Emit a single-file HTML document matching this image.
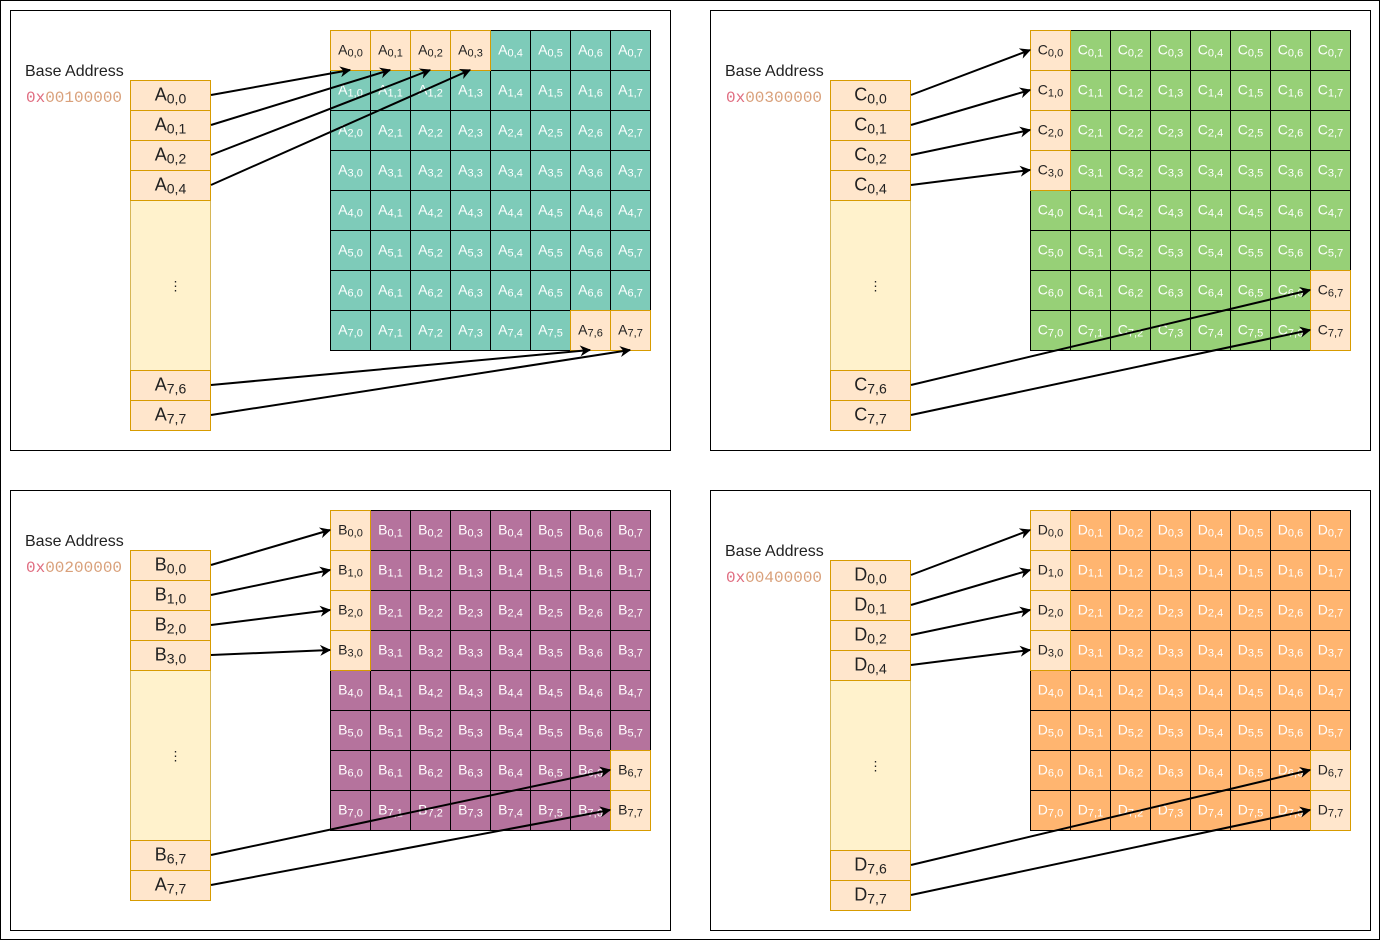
<!DOCTYPE html>
<html><head><meta charset="utf-8"><style>
html,body{margin:0;padding:0;background:#fff}
svg{display:block}
text{font-family:"Liberation Sans",sans-serif}
.g text{font-size:14px;text-anchor:middle;fill:#fff}
.g text tspan{font-size:11px}
.g text.d{fill:#222}
.l text{font-size:18px;text-anchor:middle;fill:#222}
.l text tspan{font-size:14px}
.ba{font-size:16px;fill:#222}
.ad{font-family:"Liberation Mono",monospace;font-size:16px;fill:#d9a07a}
.ad tspan{fill:#e06c80}
</style></head><body>
<svg width="1381" height="941" viewBox="0 0 1381 941" xmlns="http://www.w3.org/2000/svg">
<defs>
<marker id="ar" viewBox="0 0 10 10" refX="9" refY="5" markerWidth="12" markerHeight="11" orient="auto" markerUnits="userSpaceOnUse">
<path d="M0,0 L10,5 L0,10 L3,5 z" fill="#000"/>
</marker>
<path id="gl" d="M40 0V320M80 0V320M120 0V320M160 0V320M200 0V320M240 0V320M280 0V320M0 40H320M0 80H320M0 120H320M0 160H320M0 200H320M0 240H320M0 280H320" stroke="#000" fill="none"/>
</defs>
<rect x="0.5" y="0.5" width="1379" height="939" fill="#fff" stroke="#000"/>
<rect x="10.5" y="10.5" width="660" height="440" fill="#fff" stroke="#000"/>
<rect x="710.5" y="10.5" width="660" height="440" fill="#fff" stroke="#000"/>
<rect x="10.5" y="490.5" width="660" height="440" fill="#fff" stroke="#000"/>
<rect x="710.5" y="490.5" width="660" height="440" fill="#fff" stroke="#000"/>

<!-- TL grid -->
<g transform="translate(330.5,30.5)">
<rect width="320" height="320" fill="#7ecbb9" stroke="#000"/>
<use href="#gl"/>
<rect x="0" y="0" width="40" height="40" fill="#ffe6cc" stroke="#d79b00"/>
<rect x="40" y="0" width="40" height="40" fill="#ffe6cc" stroke="#d79b00"/>
<rect x="80" y="0" width="40" height="40" fill="#ffe6cc" stroke="#d79b00"/>
<rect x="120" y="0" width="40" height="40" fill="#ffe6cc" stroke="#d79b00"/>
<rect x="240" y="280" width="40" height="40" fill="#ffe6cc" stroke="#d79b00"/>
<rect x="280" y="280" width="40" height="40" fill="#ffe6cc" stroke="#d79b00"/>
<g class="g">
<text class="d" x="20" y="24">A<tspan dy="2">0,0</tspan></text><text class="d" x="60" y="24">A<tspan dy="2">0,1</tspan></text><text class="d" x="100" y="24">A<tspan dy="2">0,2</tspan></text><text class="d" x="140" y="24">A<tspan dy="2">0,3</tspan></text><text x="180" y="24">A<tspan dy="2">0,4</tspan></text><text x="220" y="24">A<tspan dy="2">0,5</tspan></text><text x="260" y="24">A<tspan dy="2">0,6</tspan></text><text x="300" y="24">A<tspan dy="2">0,7</tspan></text>
<text x="20" y="64">A<tspan dy="2">1,0</tspan></text><text x="60" y="64">A<tspan dy="2">1,1</tspan></text><text x="100" y="64">A<tspan dy="2">1,2</tspan></text><text x="140" y="64">A<tspan dy="2">1,3</tspan></text><text x="180" y="64">A<tspan dy="2">1,4</tspan></text><text x="220" y="64">A<tspan dy="2">1,5</tspan></text><text x="260" y="64">A<tspan dy="2">1,6</tspan></text><text x="300" y="64">A<tspan dy="2">1,7</tspan></text>
<text x="20" y="104">A<tspan dy="2">2,0</tspan></text><text x="60" y="104">A<tspan dy="2">2,1</tspan></text><text x="100" y="104">A<tspan dy="2">2,2</tspan></text><text x="140" y="104">A<tspan dy="2">2,3</tspan></text><text x="180" y="104">A<tspan dy="2">2,4</tspan></text><text x="220" y="104">A<tspan dy="2">2,5</tspan></text><text x="260" y="104">A<tspan dy="2">2,6</tspan></text><text x="300" y="104">A<tspan dy="2">2,7</tspan></text>
<text x="20" y="144">A<tspan dy="2">3,0</tspan></text><text x="60" y="144">A<tspan dy="2">3,1</tspan></text><text x="100" y="144">A<tspan dy="2">3,2</tspan></text><text x="140" y="144">A<tspan dy="2">3,3</tspan></text><text x="180" y="144">A<tspan dy="2">3,4</tspan></text><text x="220" y="144">A<tspan dy="2">3,5</tspan></text><text x="260" y="144">A<tspan dy="2">3,6</tspan></text><text x="300" y="144">A<tspan dy="2">3,7</tspan></text>
<text x="20" y="184">A<tspan dy="2">4,0</tspan></text><text x="60" y="184">A<tspan dy="2">4,1</tspan></text><text x="100" y="184">A<tspan dy="2">4,2</tspan></text><text x="140" y="184">A<tspan dy="2">4,3</tspan></text><text x="180" y="184">A<tspan dy="2">4,4</tspan></text><text x="220" y="184">A<tspan dy="2">4,5</tspan></text><text x="260" y="184">A<tspan dy="2">4,6</tspan></text><text x="300" y="184">A<tspan dy="2">4,7</tspan></text>
<text x="20" y="224">A<tspan dy="2">5,0</tspan></text><text x="60" y="224">A<tspan dy="2">5,1</tspan></text><text x="100" y="224">A<tspan dy="2">5,2</tspan></text><text x="140" y="224">A<tspan dy="2">5,3</tspan></text><text x="180" y="224">A<tspan dy="2">5,4</tspan></text><text x="220" y="224">A<tspan dy="2">5,5</tspan></text><text x="260" y="224">A<tspan dy="2">5,6</tspan></text><text x="300" y="224">A<tspan dy="2">5,7</tspan></text>
<text x="20" y="264">A<tspan dy="2">6,0</tspan></text><text x="60" y="264">A<tspan dy="2">6,1</tspan></text><text x="100" y="264">A<tspan dy="2">6,2</tspan></text><text x="140" y="264">A<tspan dy="2">6,3</tspan></text><text x="180" y="264">A<tspan dy="2">6,4</tspan></text><text x="220" y="264">A<tspan dy="2">6,5</tspan></text><text x="260" y="264">A<tspan dy="2">6,6</tspan></text><text x="300" y="264">A<tspan dy="2">6,7</tspan></text>
<text x="20" y="304">A<tspan dy="2">7,0</tspan></text><text x="60" y="304">A<tspan dy="2">7,1</tspan></text><text x="100" y="304">A<tspan dy="2">7,2</tspan></text><text x="140" y="304">A<tspan dy="2">7,3</tspan></text><text x="180" y="304">A<tspan dy="2">7,4</tspan></text><text x="220" y="304">A<tspan dy="2">7,5</tspan></text><text class="d" x="260" y="304">A<tspan dy="2">7,6</tspan></text><text class="d" x="300" y="304">A<tspan dy="2">7,7</tspan></text>
</g></g>

<!-- TR grid -->
<g transform="translate(1030.5,30.5)">
<rect width="320" height="320" fill="#97d077" stroke="#000"/>
<use href="#gl"/>
<rect x="0" y="0" width="40" height="40" fill="#ffe6cc" stroke="#d79b00"/>
<rect x="0" y="40" width="40" height="40" fill="#ffe6cc" stroke="#d79b00"/>
<rect x="0" y="80" width="40" height="40" fill="#ffe6cc" stroke="#d79b00"/>
<rect x="0" y="120" width="40" height="40" fill="#ffe6cc" stroke="#d79b00"/>
<rect x="280" y="240" width="40" height="40" fill="#ffe6cc" stroke="#d79b00"/>
<rect x="280" y="280" width="40" height="40" fill="#ffe6cc" stroke="#d79b00"/>
<g class="g">
<text class="d" x="20" y="24">C<tspan dy="2">0,0</tspan></text><text x="60" y="24">C<tspan dy="2">0,1</tspan></text><text x="100" y="24">C<tspan dy="2">0,2</tspan></text><text x="140" y="24">C<tspan dy="2">0,3</tspan></text><text x="180" y="24">C<tspan dy="2">0,4</tspan></text><text x="220" y="24">C<tspan dy="2">0,5</tspan></text><text x="260" y="24">C<tspan dy="2">0,6</tspan></text><text x="300" y="24">C<tspan dy="2">0,7</tspan></text>
<text class="d" x="20" y="64">C<tspan dy="2">1,0</tspan></text><text x="60" y="64">C<tspan dy="2">1,1</tspan></text><text x="100" y="64">C<tspan dy="2">1,2</tspan></text><text x="140" y="64">C<tspan dy="2">1,3</tspan></text><text x="180" y="64">C<tspan dy="2">1,4</tspan></text><text x="220" y="64">C<tspan dy="2">1,5</tspan></text><text x="260" y="64">C<tspan dy="2">1,6</tspan></text><text x="300" y="64">C<tspan dy="2">1,7</tspan></text>
<text class="d" x="20" y="104">C<tspan dy="2">2,0</tspan></text><text x="60" y="104">C<tspan dy="2">2,1</tspan></text><text x="100" y="104">C<tspan dy="2">2,2</tspan></text><text x="140" y="104">C<tspan dy="2">2,3</tspan></text><text x="180" y="104">C<tspan dy="2">2,4</tspan></text><text x="220" y="104">C<tspan dy="2">2,5</tspan></text><text x="260" y="104">C<tspan dy="2">2,6</tspan></text><text x="300" y="104">C<tspan dy="2">2,7</tspan></text>
<text class="d" x="20" y="144">C<tspan dy="2">3,0</tspan></text><text x="60" y="144">C<tspan dy="2">3,1</tspan></text><text x="100" y="144">C<tspan dy="2">3,2</tspan></text><text x="140" y="144">C<tspan dy="2">3,3</tspan></text><text x="180" y="144">C<tspan dy="2">3,4</tspan></text><text x="220" y="144">C<tspan dy="2">3,5</tspan></text><text x="260" y="144">C<tspan dy="2">3,6</tspan></text><text x="300" y="144">C<tspan dy="2">3,7</tspan></text>
<text x="20" y="184">C<tspan dy="2">4,0</tspan></text><text x="60" y="184">C<tspan dy="2">4,1</tspan></text><text x="100" y="184">C<tspan dy="2">4,2</tspan></text><text x="140" y="184">C<tspan dy="2">4,3</tspan></text><text x="180" y="184">C<tspan dy="2">4,4</tspan></text><text x="220" y="184">C<tspan dy="2">4,5</tspan></text><text x="260" y="184">C<tspan dy="2">4,6</tspan></text><text x="300" y="184">C<tspan dy="2">4,7</tspan></text>
<text x="20" y="224">C<tspan dy="2">5,0</tspan></text><text x="60" y="224">C<tspan dy="2">5,1</tspan></text><text x="100" y="224">C<tspan dy="2">5,2</tspan></text><text x="140" y="224">C<tspan dy="2">5,3</tspan></text><text x="180" y="224">C<tspan dy="2">5,4</tspan></text><text x="220" y="224">C<tspan dy="2">5,5</tspan></text><text x="260" y="224">C<tspan dy="2">5,6</tspan></text><text x="300" y="224">C<tspan dy="2">5,7</tspan></text>
<text x="20" y="264">C<tspan dy="2">6,0</tspan></text><text x="60" y="264">C<tspan dy="2">6,1</tspan></text><text x="100" y="264">C<tspan dy="2">6,2</tspan></text><text x="140" y="264">C<tspan dy="2">6,3</tspan></text><text x="180" y="264">C<tspan dy="2">6,4</tspan></text><text x="220" y="264">C<tspan dy="2">6,5</tspan></text><text x="260" y="264">C<tspan dy="2">6,6</tspan></text><text class="d" x="300" y="264">C<tspan dy="2">6,7</tspan></text>
<text x="20" y="304">C<tspan dy="2">7,0</tspan></text><text x="60" y="304">C<tspan dy="2">7,1</tspan></text><text x="100" y="304">C<tspan dy="2">7,2</tspan></text><text x="140" y="304">C<tspan dy="2">7,3</tspan></text><text x="180" y="304">C<tspan dy="2">7,4</tspan></text><text x="220" y="304">C<tspan dy="2">7,5</tspan></text><text x="260" y="304">C<tspan dy="2">7,6</tspan></text><text class="d" x="300" y="304">C<tspan dy="2">7,7</tspan></text>
</g></g>

<!-- BL grid -->
<g transform="translate(330.5,510.5)">
<rect width="320" height="320" fill="#b5739d" stroke="#000"/>
<use href="#gl"/>
<rect x="0" y="0" width="40" height="40" fill="#ffe6cc" stroke="#d79b00"/>
<rect x="0" y="40" width="40" height="40" fill="#ffe6cc" stroke="#d79b00"/>
<rect x="0" y="80" width="40" height="40" fill="#ffe6cc" stroke="#d79b00"/>
<rect x="0" y="120" width="40" height="40" fill="#ffe6cc" stroke="#d79b00"/>
<rect x="280" y="240" width="40" height="40" fill="#ffe6cc" stroke="#d79b00"/>
<rect x="280" y="280" width="40" height="40" fill="#ffe6cc" stroke="#d79b00"/>
<g class="g">
<text class="d" x="20" y="24">B<tspan dy="2">0,0</tspan></text><text x="60" y="24">B<tspan dy="2">0,1</tspan></text><text x="100" y="24">B<tspan dy="2">0,2</tspan></text><text x="140" y="24">B<tspan dy="2">0,3</tspan></text><text x="180" y="24">B<tspan dy="2">0,4</tspan></text><text x="220" y="24">B<tspan dy="2">0,5</tspan></text><text x="260" y="24">B<tspan dy="2">0,6</tspan></text><text x="300" y="24">B<tspan dy="2">0,7</tspan></text>
<text class="d" x="20" y="64">B<tspan dy="2">1,0</tspan></text><text x="60" y="64">B<tspan dy="2">1,1</tspan></text><text x="100" y="64">B<tspan dy="2">1,2</tspan></text><text x="140" y="64">B<tspan dy="2">1,3</tspan></text><text x="180" y="64">B<tspan dy="2">1,4</tspan></text><text x="220" y="64">B<tspan dy="2">1,5</tspan></text><text x="260" y="64">B<tspan dy="2">1,6</tspan></text><text x="300" y="64">B<tspan dy="2">1,7</tspan></text>
<text class="d" x="20" y="104">B<tspan dy="2">2,0</tspan></text><text x="60" y="104">B<tspan dy="2">2,1</tspan></text><text x="100" y="104">B<tspan dy="2">2,2</tspan></text><text x="140" y="104">B<tspan dy="2">2,3</tspan></text><text x="180" y="104">B<tspan dy="2">2,4</tspan></text><text x="220" y="104">B<tspan dy="2">2,5</tspan></text><text x="260" y="104">B<tspan dy="2">2,6</tspan></text><text x="300" y="104">B<tspan dy="2">2,7</tspan></text>
<text class="d" x="20" y="144">B<tspan dy="2">3,0</tspan></text><text x="60" y="144">B<tspan dy="2">3,1</tspan></text><text x="100" y="144">B<tspan dy="2">3,2</tspan></text><text x="140" y="144">B<tspan dy="2">3,3</tspan></text><text x="180" y="144">B<tspan dy="2">3,4</tspan></text><text x="220" y="144">B<tspan dy="2">3,5</tspan></text><text x="260" y="144">B<tspan dy="2">3,6</tspan></text><text x="300" y="144">B<tspan dy="2">3,7</tspan></text>
<text x="20" y="184">B<tspan dy="2">4,0</tspan></text><text x="60" y="184">B<tspan dy="2">4,1</tspan></text><text x="100" y="184">B<tspan dy="2">4,2</tspan></text><text x="140" y="184">B<tspan dy="2">4,3</tspan></text><text x="180" y="184">B<tspan dy="2">4,4</tspan></text><text x="220" y="184">B<tspan dy="2">4,5</tspan></text><text x="260" y="184">B<tspan dy="2">4,6</tspan></text><text x="300" y="184">B<tspan dy="2">4,7</tspan></text>
<text x="20" y="224">B<tspan dy="2">5,0</tspan></text><text x="60" y="224">B<tspan dy="2">5,1</tspan></text><text x="100" y="224">B<tspan dy="2">5,2</tspan></text><text x="140" y="224">B<tspan dy="2">5,3</tspan></text><text x="180" y="224">B<tspan dy="2">5,4</tspan></text><text x="220" y="224">B<tspan dy="2">5,5</tspan></text><text x="260" y="224">B<tspan dy="2">5,6</tspan></text><text x="300" y="224">B<tspan dy="2">5,7</tspan></text>
<text x="20" y="264">B<tspan dy="2">6,0</tspan></text><text x="60" y="264">B<tspan dy="2">6,1</tspan></text><text x="100" y="264">B<tspan dy="2">6,2</tspan></text><text x="140" y="264">B<tspan dy="2">6,3</tspan></text><text x="180" y="264">B<tspan dy="2">6,4</tspan></text><text x="220" y="264">B<tspan dy="2">6,5</tspan></text><text x="260" y="264">B<tspan dy="2">6,6</tspan></text><text class="d" x="300" y="264">B<tspan dy="2">6,7</tspan></text>
<text x="20" y="304">B<tspan dy="2">7,0</tspan></text><text x="60" y="304">B<tspan dy="2">7,1</tspan></text><text x="100" y="304">B<tspan dy="2">7,2</tspan></text><text x="140" y="304">B<tspan dy="2">7,3</tspan></text><text x="180" y="304">B<tspan dy="2">7,4</tspan></text><text x="220" y="304">B<tspan dy="2">7,5</tspan></text><text x="260" y="304">B<tspan dy="2">7,6</tspan></text><text class="d" x="300" y="304">B<tspan dy="2">7,7</tspan></text>
</g></g>

<!-- BR grid -->
<g transform="translate(1030.5,510.5)">
<rect width="320" height="320" fill="#ffb570" stroke="#000"/>
<use href="#gl"/>
<rect x="0" y="0" width="40" height="40" fill="#ffe6cc" stroke="#d79b00"/>
<rect x="0" y="40" width="40" height="40" fill="#ffe6cc" stroke="#d79b00"/>
<rect x="0" y="80" width="40" height="40" fill="#ffe6cc" stroke="#d79b00"/>
<rect x="0" y="120" width="40" height="40" fill="#ffe6cc" stroke="#d79b00"/>
<rect x="280" y="240" width="40" height="40" fill="#ffe6cc" stroke="#d79b00"/>
<rect x="280" y="280" width="40" height="40" fill="#ffe6cc" stroke="#d79b00"/>
<g class="g">
<text class="d" x="20" y="24">D<tspan dy="2">0,0</tspan></text><text x="60" y="24">D<tspan dy="2">0,1</tspan></text><text x="100" y="24">D<tspan dy="2">0,2</tspan></text><text x="140" y="24">D<tspan dy="2">0,3</tspan></text><text x="180" y="24">D<tspan dy="2">0,4</tspan></text><text x="220" y="24">D<tspan dy="2">0,5</tspan></text><text x="260" y="24">D<tspan dy="2">0,6</tspan></text><text x="300" y="24">D<tspan dy="2">0,7</tspan></text>
<text class="d" x="20" y="64">D<tspan dy="2">1,0</tspan></text><text x="60" y="64">D<tspan dy="2">1,1</tspan></text><text x="100" y="64">D<tspan dy="2">1,2</tspan></text><text x="140" y="64">D<tspan dy="2">1,3</tspan></text><text x="180" y="64">D<tspan dy="2">1,4</tspan></text><text x="220" y="64">D<tspan dy="2">1,5</tspan></text><text x="260" y="64">D<tspan dy="2">1,6</tspan></text><text x="300" y="64">D<tspan dy="2">1,7</tspan></text>
<text class="d" x="20" y="104">D<tspan dy="2">2,0</tspan></text><text x="60" y="104">D<tspan dy="2">2,1</tspan></text><text x="100" y="104">D<tspan dy="2">2,2</tspan></text><text x="140" y="104">D<tspan dy="2">2,3</tspan></text><text x="180" y="104">D<tspan dy="2">2,4</tspan></text><text x="220" y="104">D<tspan dy="2">2,5</tspan></text><text x="260" y="104">D<tspan dy="2">2,6</tspan></text><text x="300" y="104">D<tspan dy="2">2,7</tspan></text>
<text class="d" x="20" y="144">D<tspan dy="2">3,0</tspan></text><text x="60" y="144">D<tspan dy="2">3,1</tspan></text><text x="100" y="144">D<tspan dy="2">3,2</tspan></text><text x="140" y="144">D<tspan dy="2">3,3</tspan></text><text x="180" y="144">D<tspan dy="2">3,4</tspan></text><text x="220" y="144">D<tspan dy="2">3,5</tspan></text><text x="260" y="144">D<tspan dy="2">3,6</tspan></text><text x="300" y="144">D<tspan dy="2">3,7</tspan></text>
<text x="20" y="184">D<tspan dy="2">4,0</tspan></text><text x="60" y="184">D<tspan dy="2">4,1</tspan></text><text x="100" y="184">D<tspan dy="2">4,2</tspan></text><text x="140" y="184">D<tspan dy="2">4,3</tspan></text><text x="180" y="184">D<tspan dy="2">4,4</tspan></text><text x="220" y="184">D<tspan dy="2">4,5</tspan></text><text x="260" y="184">D<tspan dy="2">4,6</tspan></text><text x="300" y="184">D<tspan dy="2">4,7</tspan></text>
<text x="20" y="224">D<tspan dy="2">5,0</tspan></text><text x="60" y="224">D<tspan dy="2">5,1</tspan></text><text x="100" y="224">D<tspan dy="2">5,2</tspan></text><text x="140" y="224">D<tspan dy="2">5,3</tspan></text><text x="180" y="224">D<tspan dy="2">5,4</tspan></text><text x="220" y="224">D<tspan dy="2">5,5</tspan></text><text x="260" y="224">D<tspan dy="2">5,6</tspan></text><text x="300" y="224">D<tspan dy="2">5,7</tspan></text>
<text x="20" y="264">D<tspan dy="2">6,0</tspan></text><text x="60" y="264">D<tspan dy="2">6,1</tspan></text><text x="100" y="264">D<tspan dy="2">6,2</tspan></text><text x="140" y="264">D<tspan dy="2">6,3</tspan></text><text x="180" y="264">D<tspan dy="2">6,4</tspan></text><text x="220" y="264">D<tspan dy="2">6,5</tspan></text><text x="260" y="264">D<tspan dy="2">6,6</tspan></text><text class="d" x="300" y="264">D<tspan dy="2">6,7</tspan></text>
<text x="20" y="304">D<tspan dy="2">7,0</tspan></text><text x="60" y="304">D<tspan dy="2">7,1</tspan></text><text x="100" y="304">D<tspan dy="2">7,2</tspan></text><text x="140" y="304">D<tspan dy="2">7,3</tspan></text><text x="180" y="304">D<tspan dy="2">7,4</tspan></text><text x="220" y="304">D<tspan dy="2">7,5</tspan></text><text x="260" y="304">D<tspan dy="2">7,6</tspan></text><text class="d" x="300" y="304">D<tspan dy="2">7,7</tspan></text>
</g></g>

<!-- Left columns -->
<g class="l" stroke-width="1">
<g transform="translate(130.5,80.5)">
<rect x="0" y="120" width="80" height="170" fill="#fff2cc" stroke="#d6b656"/>
<rect x="0" y="0" width="80" height="30" fill="#ffe6cc" stroke="#d79b00"/>
<rect x="0" y="30" width="80" height="30" fill="#ffe6cc" stroke="#d79b00"/>
<rect x="0" y="60" width="80" height="30" fill="#ffe6cc" stroke="#d79b00"/>
<rect x="0" y="90" width="80" height="30" fill="#ffe6cc" stroke="#d79b00"/>
<rect x="0" y="290" width="80" height="30" fill="#ffe6cc" stroke="#d79b00"/>
<rect x="0" y="320" width="80" height="30" fill="#ffe6cc" stroke="#d79b00"/>
<text x="40" y="20">A<tspan dy="3">0,0</tspan></text>
<text x="40" y="50">A<tspan dy="3">0,1</tspan></text>
<text x="40" y="80">A<tspan dy="3">0,2</tspan></text>
<text x="40" y="110">A<tspan dy="3">0,4</tspan></text>
<text x="40" y="310">A<tspan dy="3">7,6</tspan></text>
<text x="40" y="340">A<tspan dy="3">7,7</tspan></text>
<text x="45" y="210" style="font-size:13px">⋮</text>
</g>
<g transform="translate(830.5,80.5)">
<rect x="0" y="120" width="80" height="170" fill="#fff2cc" stroke="#d6b656"/>
<rect x="0" y="0" width="80" height="30" fill="#ffe6cc" stroke="#d79b00"/>
<rect x="0" y="30" width="80" height="30" fill="#ffe6cc" stroke="#d79b00"/>
<rect x="0" y="60" width="80" height="30" fill="#ffe6cc" stroke="#d79b00"/>
<rect x="0" y="90" width="80" height="30" fill="#ffe6cc" stroke="#d79b00"/>
<rect x="0" y="290" width="80" height="30" fill="#ffe6cc" stroke="#d79b00"/>
<rect x="0" y="320" width="80" height="30" fill="#ffe6cc" stroke="#d79b00"/>
<text x="40" y="20">C<tspan dy="3">0,0</tspan></text>
<text x="40" y="50">C<tspan dy="3">0,1</tspan></text>
<text x="40" y="80">C<tspan dy="3">0,2</tspan></text>
<text x="40" y="110">C<tspan dy="3">0,4</tspan></text>
<text x="40" y="310">C<tspan dy="3">7,6</tspan></text>
<text x="40" y="340">C<tspan dy="3">7,7</tspan></text>
<text x="45" y="210" style="font-size:13px">⋮</text>
</g>
<g transform="translate(130.5,550.5)">
<rect x="0" y="120" width="80" height="170" fill="#fff2cc" stroke="#d6b656"/>
<rect x="0" y="0" width="80" height="30" fill="#ffe6cc" stroke="#d79b00"/>
<rect x="0" y="30" width="80" height="30" fill="#ffe6cc" stroke="#d79b00"/>
<rect x="0" y="60" width="80" height="30" fill="#ffe6cc" stroke="#d79b00"/>
<rect x="0" y="90" width="80" height="30" fill="#ffe6cc" stroke="#d79b00"/>
<rect x="0" y="290" width="80" height="30" fill="#ffe6cc" stroke="#d79b00"/>
<rect x="0" y="320" width="80" height="30" fill="#ffe6cc" stroke="#d79b00"/>
<text x="40" y="20">B<tspan dy="3">0,0</tspan></text>
<text x="40" y="50">B<tspan dy="3">1,0</tspan></text>
<text x="40" y="80">B<tspan dy="3">2,0</tspan></text>
<text x="40" y="110">B<tspan dy="3">3,0</tspan></text>
<text x="40" y="310">B<tspan dy="3">6,7</tspan></text>
<text x="40" y="340">A<tspan dy="3">7,7</tspan></text>
<text x="45" y="210" style="font-size:13px">⋮</text>
</g>
<g transform="translate(830.5,560.5)">
<rect x="0" y="120" width="80" height="170" fill="#fff2cc" stroke="#d6b656"/>
<rect x="0" y="0" width="80" height="30" fill="#ffe6cc" stroke="#d79b00"/>
<rect x="0" y="30" width="80" height="30" fill="#ffe6cc" stroke="#d79b00"/>
<rect x="0" y="60" width="80" height="30" fill="#ffe6cc" stroke="#d79b00"/>
<rect x="0" y="90" width="80" height="30" fill="#ffe6cc" stroke="#d79b00"/>
<rect x="0" y="290" width="80" height="30" fill="#ffe6cc" stroke="#d79b00"/>
<rect x="0" y="320" width="80" height="30" fill="#ffe6cc" stroke="#d79b00"/>
<text x="40" y="20">D<tspan dy="3">0,0</tspan></text>
<text x="40" y="50">D<tspan dy="3">0,1</tspan></text>
<text x="40" y="80">D<tspan dy="3">0,2</tspan></text>
<text x="40" y="110">D<tspan dy="3">0,4</tspan></text>
<text x="40" y="310">D<tspan dy="3">7,6</tspan></text>
<text x="40" y="340">D<tspan dy="3">7,7</tspan></text>
<text x="45" y="210" style="font-size:13px">⋮</text>
</g>
</g>

<!-- Labels -->
<text class="ba" x="25" y="76">Base Address</text>
<text class="ad" x="26" y="102"><tspan>0x</tspan>00100000</text>
<text class="ba" x="725" y="76">Base Address</text>
<text class="ad" x="726" y="102"><tspan>0x</tspan>00300000</text>
<text class="ba" x="25" y="546">Base Address</text>
<text class="ad" x="26" y="572"><tspan>0x</tspan>00200000</text>
<text class="ba" x="725" y="556">Base Address</text>
<text class="ad" x="726" y="582"><tspan>0x</tspan>00400000</text>

<!-- Arrows -->
<g stroke="#000" stroke-width="2" fill="none" marker-end="url(#ar)">
<line x1="211" y1="95" x2="350" y2="70"/>
<line x1="211" y1="125" x2="390" y2="70"/>
<line x1="211" y1="155" x2="430" y2="70"/>
<line x1="211" y1="185" x2="470" y2="70"/>
<line x1="211" y1="385" x2="590" y2="350"/>
<line x1="211" y1="415" x2="630" y2="350"/>

<line x1="911" y1="95" x2="1030" y2="50"/>
<line x1="911" y1="125" x2="1030" y2="90"/>
<line x1="911" y1="155" x2="1030" y2="130"/>
<line x1="911" y1="185" x2="1030" y2="170"/>
<line x1="911" y1="385" x2="1310" y2="290"/>
<line x1="911" y1="415" x2="1310" y2="330"/>

<line x1="211" y1="565" x2="330" y2="530"/>
<line x1="211" y1="595" x2="330" y2="570"/>
<line x1="211" y1="625" x2="330" y2="610"/>
<line x1="211" y1="655" x2="330" y2="650"/>
<line x1="211" y1="855" x2="610" y2="770"/>
<line x1="211" y1="885" x2="610" y2="810"/>

<line x1="911" y1="575" x2="1030" y2="530"/>
<line x1="911" y1="605" x2="1030" y2="570"/>
<line x1="911" y1="635" x2="1030" y2="610"/>
<line x1="911" y1="665" x2="1030" y2="650"/>
<line x1="911" y1="865" x2="1310" y2="770"/>
<line x1="911" y1="895" x2="1310" y2="810"/>
</g>
</svg>
</body></html>
